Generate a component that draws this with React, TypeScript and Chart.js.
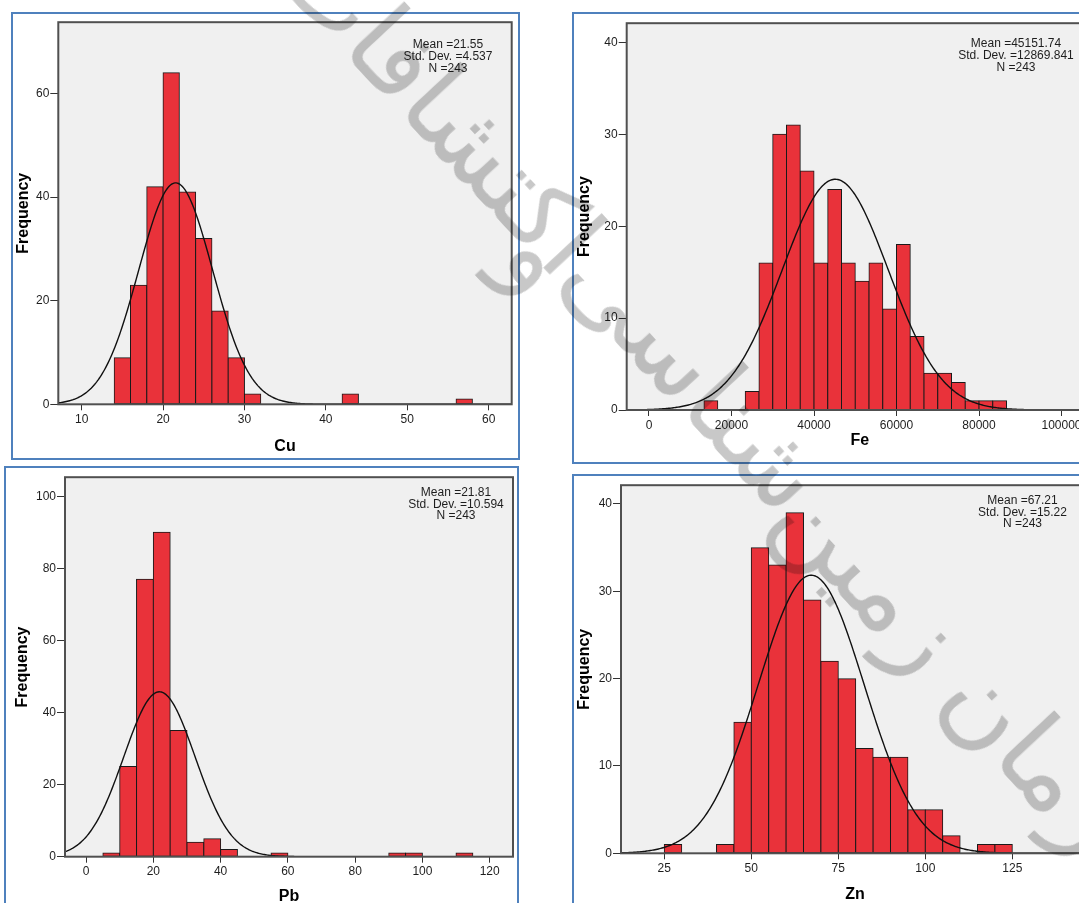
import React, { useEffect, useRef } from 'react';
import { Chart, registerables } from 'chart.js';
Chart.register(...registerables);

const FONT = "'Liberation Sans', Arial, sans-serif";

// ---------------- DATA ----------------
// Cu
const cuBinStart = 14;
const cuBinWidth = 2;
const cuCounts = [9, 23, 42, 64, 41, 32, 18, 9, 2, 0, 0, 0, 0, 0, 2, 0, 0, 0, 0, 0, 0, 1];
const cuXTicks = [10, 20, 30, 40, 50, 60];
const cuYTicks = [0, 20, 40, 60];
const cuMean = 21.55;
const cuSd = 4.537;
const cuN = 243;
const cuStats = ['Mean =21.55', 'Std. Dev. =4.537', 'N =243'];

// Fe
const feBinStart = 40000 / 3;
const feBinWidth = 10000 / 3;
const feCounts = [1, 0, 0, 2, 16, 30, 31, 26, 16, 24, 16, 14, 16, 11, 18, 8, 4, 4, 3, 1, 1, 1];
const feXTicks = [0, 20000, 40000, 60000, 80000, 100000];
const feYTicks = [0, 10, 20, 30, 40];
const feMean = 45151.74;
const feSd = 12869.841;
const feN = 243;
const feStats = ['Mean =45151.74', 'Std. Dev. =12869.841', 'N =243'];

// Pb
const pbBinStart = 5;
const pbBinWidth = 5;
const pbCounts = [1, 25, 77, 90, 35, 4, 5, 2, 0, 0, 1, 0, 0, 0, 0, 0, 0, 1, 1, 0, 0, 1];
const pbXTicks = [0, 20, 40, 60, 80, 100, 120];
const pbYTicks = [0, 20, 40, 60, 80, 100];
const pbMean = 21.81;
const pbSd = 10.594;
const pbN = 243;
const pbStats = ['Mean =21.81', 'Std. Dev. =10.594', 'N =243'];

// Zn
const znBinStart = 25;
const znBinWidth = 5;
const znCounts = [1, 0, 0, 1, 15, 35, 33, 39, 29, 22, 20, 12, 11, 11, 5, 5, 2, 0, 1, 1];
const znXTicks = [25, 50, 75, 100, 125];
const znYTicks = [0, 10, 20, 30, 40];
const znMean = 67.21;
const znSd = 15.22;
const znN = 243;
const znStats = ['Mean =67.21', 'Std. Dev. =15.22', 'N =243'];

// watermark text
const watermarkWords = ['اکتشافات', 'و', 'شناسی', 'زمین', 'سازمان'];

// ---------------- LAYOUT ----------------
type Rect = { l: number; t: number; r: number; b: number };
type Spec = {
  title: string;
  binStart: number; binWidth: number; counts: number[];
  xTicks: number[]; yTicks: number[];
  mean: number; sd: number; n: number; stats: string[];
  xMin: number; xMax: number; yMax: number;
  canvas: { left: number; top: number; w: number; h: number };
  area: Rect;
  yTitleX: number; xTitleY: number; xTickY: number;
  statsX: number; statsY: number[];
  frame: { left: number; top: number; w: number; h: number };
};

const specs: Spec[] = [
  {
    title: 'Cu', binStart: cuBinStart, binWidth: cuBinWidth, counts: cuCounts,
    xTicks: cuXTicks, yTicks: cuYTicks, mean: cuMean, sd: cuSd, n: cuN, stats: cuStats,
    xMin: 7.13, xMax: 62.83, yMax: 73.75,
    canvas: { left: 13, top: 14, w: 505, h: 444 },
    area: { l: 58.3, t: 21.7, r: 511.7, b: 404.3 },
    yTitleX: 24, xTitleY: 446.7, xTickY: 420,
    statsX: 448, statsY: [44.3, 56.7, 69],
    frame: { left: 11, top: 12, w: 509, h: 448 },
  },
  {
    title: 'Fe', binStart: feBinStart, binWidth: feBinWidth, counts: feCounts,
    xTicks: feXTicks, yTicks: feYTicks, mean: feMean, sd: feSd, n: feN, stats: feStats,
    xMin: -5406, xMax: 107636, yMax: 42.09,
    canvas: { left: 574, top: 15, w: 526, h: 447 },
    area: { l: 626.7, t: 20.7, r: 1093, b: 410 },
    yTitleX: 584.7, xTitleY: 440.7, xTickY: 425.5,
    statsX: 1016, statsY: [43.5, 55.5, 67.3],
    frame: { left: 572, top: 12, w: 600, h: 452 },
  },
  {
    title: 'Pb', binStart: pbBinStart, binWidth: pbBinWidth, counts: pbCounts,
    xTicks: pbXTicks, yTicks: pbYTicks, mean: pbMean, sd: pbSd, n: pbN, stats: pbStats,
    xMin: -6.27, xMax: 126.94, yMax: 105.3,
    canvas: { left: 7, top: 469, w: 510, h: 448 },
    area: { l: 65, t: 472.3, r: 513, b: 856.7 },
    yTitleX: 22.4, xTitleY: 897, xTickY: 872,
    statsX: 456, statsY: [492.3, 504.3, 516],
    frame: { left: 4, top: 466, w: 515, h: 500 },
  },
  {
    title: 'Zn', binStart: znBinStart, binWidth: znBinWidth, counts: znCounts,
    xTicks: znXTicks, yTicks: znYTicks, mean: znMean, sd: znSd, n: znN, stats: znStats,
    xMin: 12.56, xMax: 147.04, yMax: 42.15,
    canvas: { left: 574, top: 477, w: 526, h: 440 },
    area: { l: 621, t: 481, r: 1089, b: 853.3 },
    yTitleX: 584.7, xTitleY: 895, xTickY: 869,
    statsX: 1022.5, statsY: [500.7, 512.3, 523.5],
    frame: { left: 572, top: 474, w: 600, h: 500 },
  },
];

const watermarkPos = [
  { x: 440, y: 105 },
  { x: 540, y: 255 },
  { x: 695, y: 375 },
  { x: 870, y: 575 },
  { x: 1077, y: 800 },
];

function Histogram({ spec }: { spec: Spec }) {
  const ref = useRef<HTMLCanvasElement>(null);
  useEffect(() => {
    const s = spec;
    const c = s.canvas;
    const titleLH = 19.2;
    const tickLH = 14.4;
    const padTop = s.area.t - c.top;
    const padRight = c.left + c.w - s.area.r;
    const padLeft = s.yTitleX - c.left - titleLH / 2;
    const yWidth = s.area.l - c.left - padLeft;
    const padBottom = c.top + c.h - s.xTitleY - titleLH / 2;
    const xHeight = c.top + c.h - s.area.b - padBottom;
    const xTickPad = s.xTickY - s.area.b - 6 - tickLH / 2;

    const bars = s.counts
      .map((v, i) => ({ x: s.binStart + (i + 0.5) * s.binWidth, y: v }))
      .filter((p) => p.y > 0);
    const curve: { x: number; y: number }[] = [];
    const steps = 400;
    const k = (s.n * s.binWidth) / (s.sd * Math.sqrt(2 * Math.PI));
    for (let i = 0; i <= steps; i++) {
      const x = s.xMin + ((s.xMax - s.xMin) * i) / steps;
      const z = (x - s.mean) / s.sd;
      curve.push({ x, y: k * Math.exp(-0.5 * z * z) });
    }

    const plugin = {
      id: 'spss',
      beforeDraw(chart: any) {
        const ctx = chart.ctx;
        const a = chart.chartArea;
        ctx.save();
        ctx.fillStyle = '#f0f0f0';
        ctx.fillRect(a.left, a.top, a.right - a.left, a.bottom - a.top);
        ctx.restore();
      },
      afterDatasetsDraw(chart: any) {
        const ctx = chart.ctx;
        const a = chart.chartArea;
        ctx.save();
        ctx.strokeStyle = '#505050';
        ctx.lineWidth = 2;
        ctx.strokeRect(a.left, a.top, a.right - a.left, a.bottom - a.top);
        ctx.restore();
      },
      afterDraw(chart: any) {
        const ctx = chart.ctx;
        ctx.save();
        ctx.font = `12px ${FONT}`;
        ctx.fillStyle = '#1e1e1e';
        ctx.textAlign = 'center';
        ctx.textBaseline = 'middle';
        s.stats.forEach((t, i) => {
          ctx.fillText(t, s.statsX - c.left, s.statsY[i] - c.top);
        });
        ctx.restore();
      },
    };

    const chart = new Chart(ref.current as HTMLCanvasElement, {
      type: 'bar',
      data: {
        datasets: [
          {
            type: 'line',
            data: curve,
            borderColor: '#111111',
            borderWidth: 1.4,
            pointRadius: 0,
            fill: false,
            tension: 0,
            order: 0,
          } as any,
          {
            type: 'bar',
            data: bars,
            backgroundColor: '#e9323a',
            borderColor: '#1a1a1a',
            borderWidth: 1,
            borderSkipped: false,
            inflateAmount: 0.5,
            barPercentage: 1,
            categoryPercentage: 1,
            grouped: false,
            order: 1,
          } as any,
        ],
      },
      options: {
        responsive: false,
        animation: false,
        devicePixelRatio: 1,
        layout: { padding: { left: padLeft, top: padTop, right: padRight, bottom: padBottom } },
        plugins: { legend: { display: false }, tooltip: { enabled: false }, title: { display: false } },
        scales: {
          x: {
            type: 'linear',
            min: s.xMin,
            max: s.xMax,
            offset: false,
            afterBuildTicks: (sc: any) => {
              sc.ticks = s.xTicks.map((v) => ({ value: v }));
            },
            afterFit: (sc: any) => {
              sc.height = xHeight;
            },
            grid: { offset: false, drawOnChartArea: false, drawTicks: true, tickLength: 6, color: '#333333', lineWidth: 1 },
            border: { display: false },
            ticks: {
              font: { size: 12, family: FONT },
              color: '#1e1e1e',
              padding: xTickPad,
              maxRotation: 0,
              autoSkip: false,
              callback: (v: any) => `${v}`,
            },
            title: { display: true, text: s.title, font: { size: 16, weight: 'bold', family: FONT }, color: '#000', padding: 0 },
          },
          y: {
            type: 'linear',
            min: 0,
            max: s.yMax,
            afterBuildTicks: (sc: any) => {
              sc.ticks = s.yTicks.map((v) => ({ value: v }));
            },
            afterFit: (sc: any) => {
              sc.width = yWidth;
            },
            grid: { drawOnChartArea: false, drawTicks: true, tickLength: 8, color: '#333333', lineWidth: 1 },
            border: { display: false },
            ticks: {
              font: { size: 12, family: FONT },
              color: '#1e1e1e',
              padding: 1,
              autoSkip: false,
              callback: (v: any) => `${v}`,
            },
            title: { display: true, text: 'Frequency', font: { size: 16, weight: 'bold', family: FONT }, color: '#000', padding: 0 },
          },
        },
      } as any,
      plugins: [plugin],
    });
    return () => chart.destroy();
  }, [spec]);

  const c = spec.canvas;
  return (
    <>
      <div
        style={{
          position: 'absolute',
          left: spec.frame.left,
          top: spec.frame.top,
          width: spec.frame.w,
          height: spec.frame.h,
          border: '2px solid #4f81bd',
          boxSizing: 'border-box',
        }}
      />
      <canvas
        ref={ref}
        width={c.w}
        height={c.h}
        style={{ position: 'absolute', left: c.left, top: c.top, width: c.w, height: c.h }}
      />
    </>
  );
}

export default function App() {
  return (
    <div
      style={{
        position: 'absolute',
        left: 0,
        top: 0,
        width: 1079,
        height: 903,
        overflow: 'hidden',
        background: '#ffffff',
      }}
    >
      {specs.map((s) => (
        <Histogram key={s.title} spec={s} />
      ))}
      {watermarkWords.map((w, i) => (
        <div
          key={i}
          style={{
            position: 'absolute',
            left: watermarkPos[i].x,
            top: watermarkPos[i].y,
            transform: 'translate(-50%, -50%) rotate(47deg)',
            fontFamily: "'DejaVu Sans', sans-serif",
            fontSize: 105,
            lineHeight: 1,
            whiteSpace: 'nowrap',
            color: '#c8c8c8',
            mixBlendMode: 'multiply',
            pointerEvents: 'none',
          }}
        >
          {w}
        </div>
      ))}
    </div>
  );
}
